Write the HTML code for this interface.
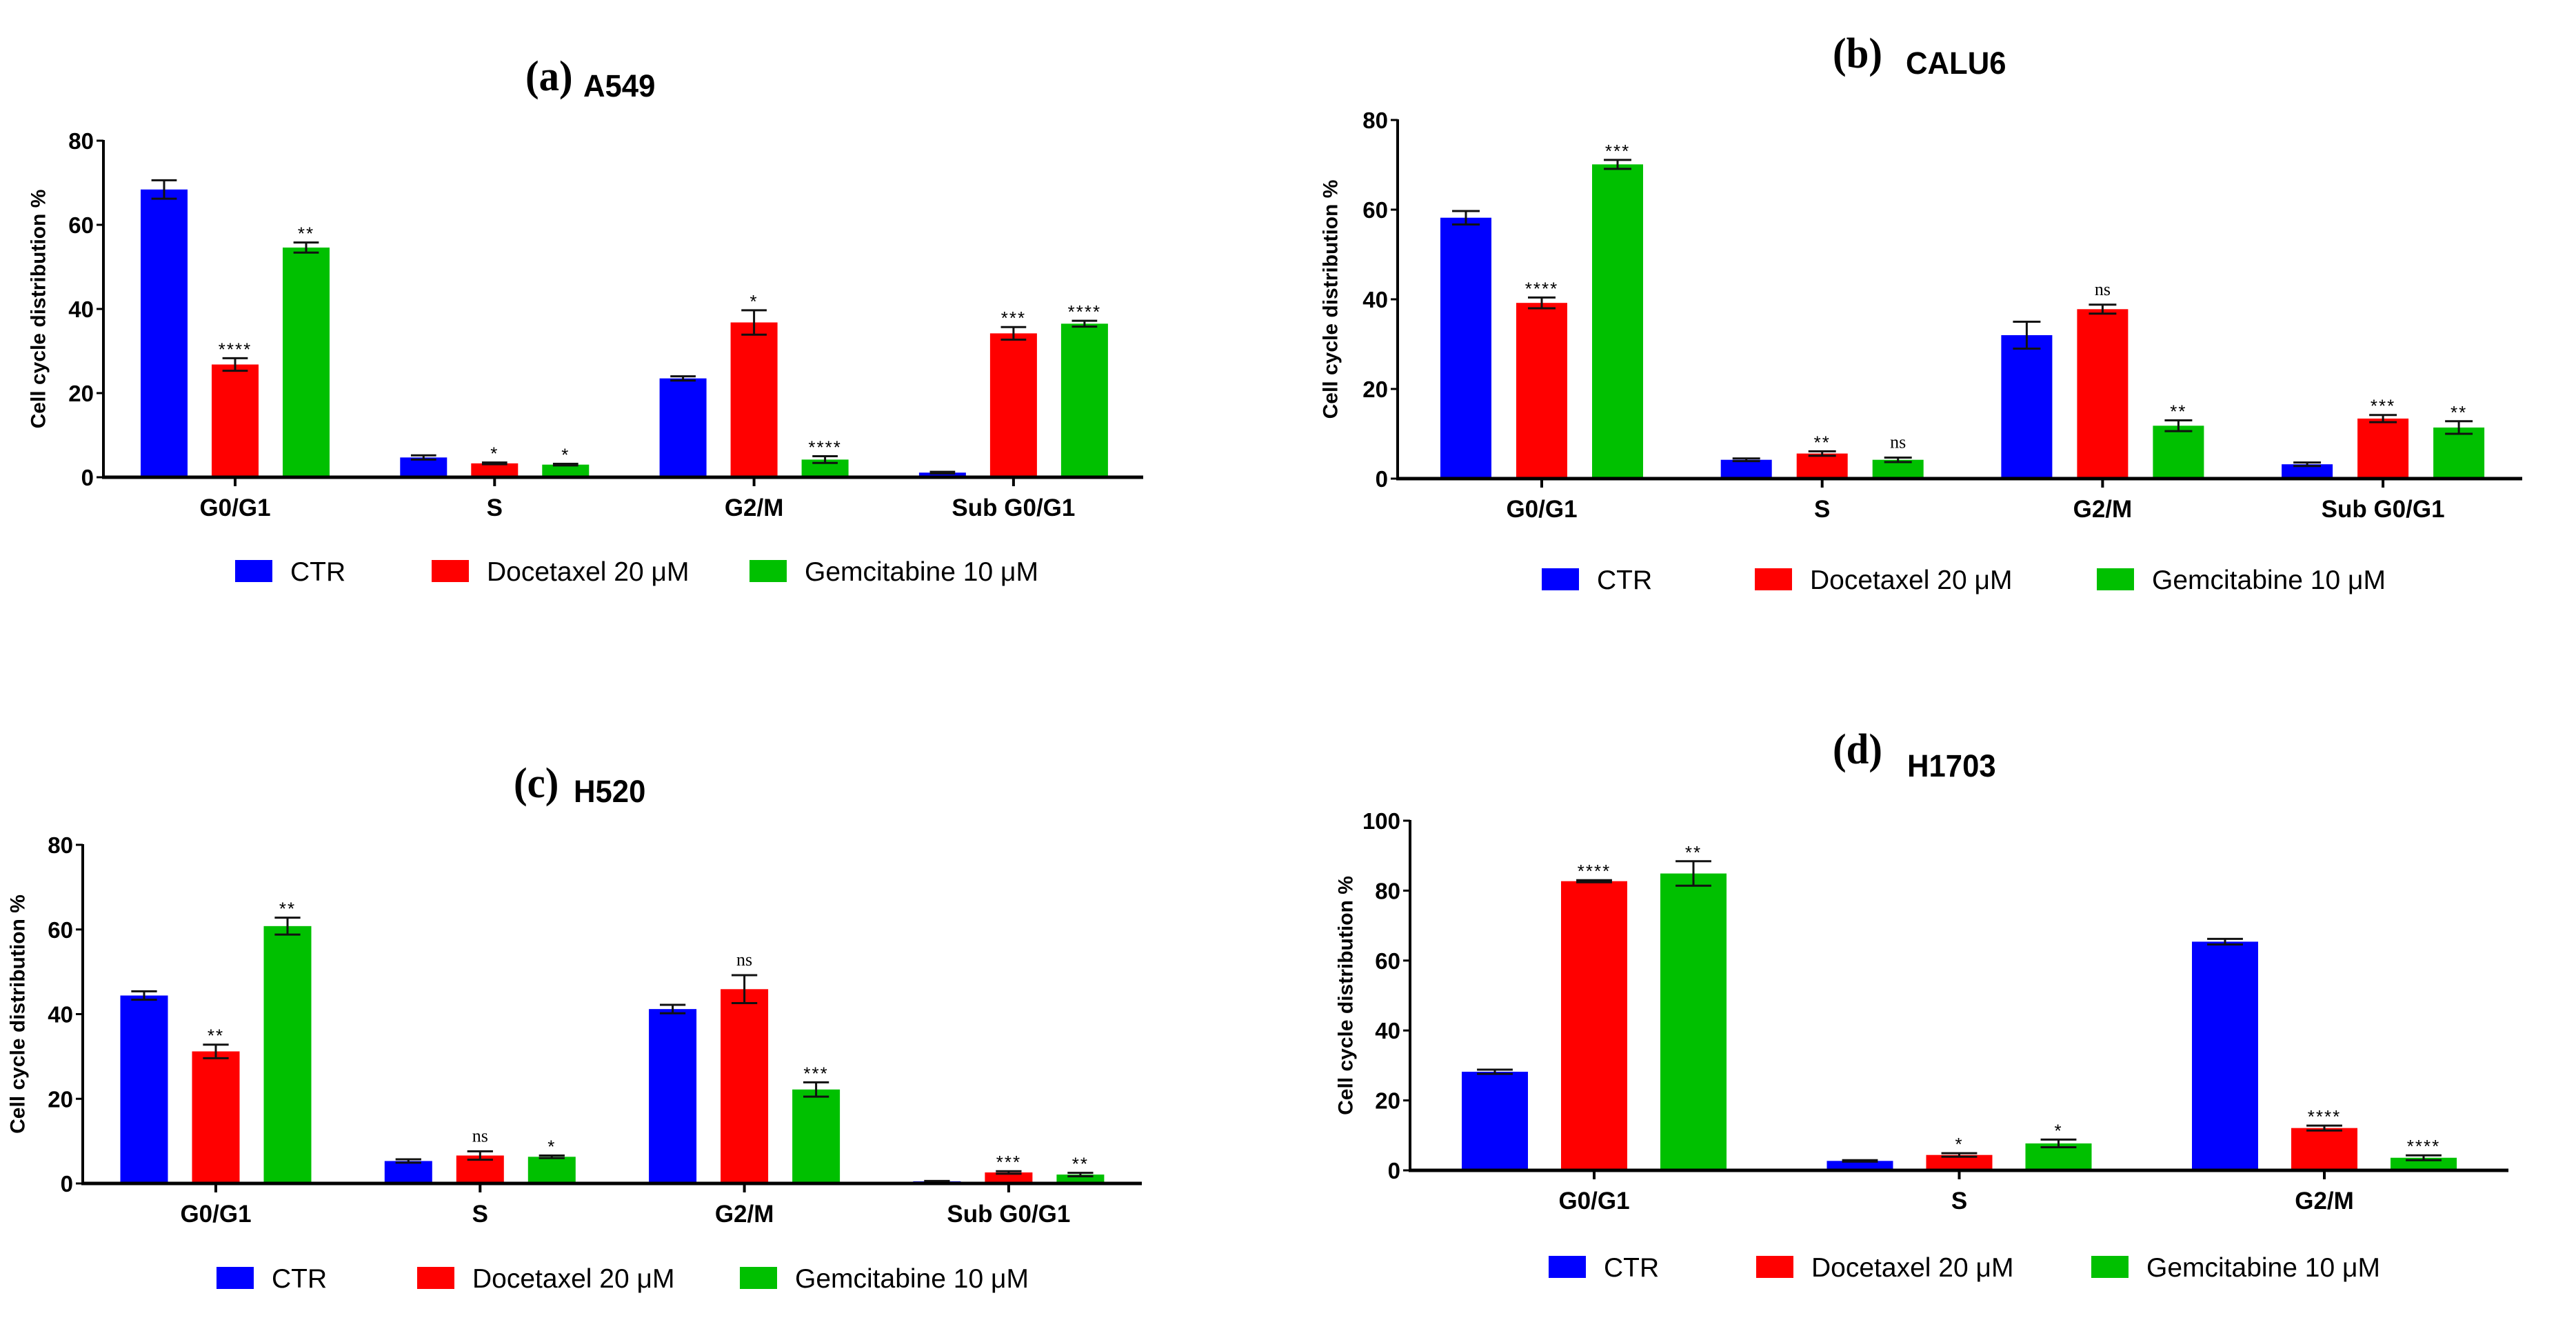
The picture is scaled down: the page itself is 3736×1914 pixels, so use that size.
<!DOCTYPE html>
<html><head><meta charset="utf-8"><style>
html,body{margin:0;padding:0;background:#fff;}
svg{display:block;}
</style></head><body>
<svg id="fig" width="3736" height="1914" viewBox="0 0 3736 1914" xmlns="http://www.w3.org/2000/svg"></svg>
<script>
// ---------- data ----------
const catsA = ["G0/G1","S","G2/M","Sub G0/G1"];
const ctrA = [68.4, 4.7, 23.5, 1.1];
const docA = [26.8, 3.3, 36.8, 34.2];
const gemA = [54.6, 3.0, 4.2, 36.5];
const ctrErrA = [2.2, 0.5, 0.5, 0.2];
const docErrA = [1.5, 0.2, 2.9, 1.5];
const gemErrA = [1.2, 0.2, 0.8, 0.7];
const docSigA = ["****","*","*","***"];
const gemSigA = ["**","*","****","****"];

const catsB = ["G0/G1","S","G2/M","Sub G0/G1"];
const ctrB = [58.2, 4.2, 32.0, 3.2];
const docB = [39.2, 5.6, 37.8, 13.4];
const gemB = [70.1, 4.2, 11.8, 11.4];
const ctrErrB = [1.5, 0.3, 3.0, 0.4];
const docErrB = [1.2, 0.5, 1.0, 0.8];
const gemErrB = [1.0, 0.5, 1.2, 1.4];
const docSigB = ["****","**","ns","***"];
const gemSigB = ["***","ns","**","**"];

const catsC = ["G0/G1","S","G2/M","Sub G0/G1"];
const ctrC = [44.4, 5.3, 41.2, 0.5];
const docC = [31.2, 6.6, 45.9, 2.6];
const gemC = [60.8, 6.3, 22.2, 2.1];
const ctrErrC = [1.0, 0.4, 1.0, 0.1];
const docErrC = [1.6, 1.0, 3.3, 0.3];
const gemErrC = [2.0, 0.3, 1.7, 0.4];
const docSigC = ["**","ns","ns","***"];
const gemSigC = ["**","*","***","**"];

const catsD = ["G0/G1","S","G2/M"];
const ctrD = [28.2, 2.7, 65.4];
const docD = [82.7, 4.4, 12.1];
const gemD = [84.9, 7.7, 3.6];
const ctrErrD = [0.6, 0.2, 0.8];
const docErrD = [0.3, 0.5, 0.7];
const gemErrD = [3.5, 1.1, 0.7];
const docSigD = ["****","*","****"];
const gemSigD = ["**","*","****"];

const ticksABC = [0,20,40,60,80];
const ticksD = [0,20,40,60,80,100];
const legendLabels = ["CTR","Docetaxel 20 \u03bcM","Gemcitabine 10 \u03bcM"];
const colors = ["#0000FF","#FF0000","#00C000"];

// ---------- rendering ----------
const NS = "http://www.w3.org/2000/svg";
const svg = document.getElementById('fig');
function mk(tag, attrs, parent){
  const e = document.createElementNS(NS, tag);
  for (const k in attrs) e.setAttribute(k, attrs[k]);
  (parent||svg).appendChild(e);
  return e;
}
function txt(parent, s, x, y, size, opts){
  opts = opts||{};
  const g = mk('g', {transform:`translate(${x},${y}) scale(${opts.sx||1},1)`}, parent);
  const t = mk('text', {x:0, y:0, 'font-size':size, 'font-family': opts.serif?'"Liberation Serif", serif':'"Liberation Sans", sans-serif', 'font-weight': opts.bold?'bold':'normal', 'text-anchor': opts.anchor||'start', fill:'#000'}, g);
  if (opts.ls) t.setAttribute('letter-spacing', opts.ls);
  t.textContent = s;
  return t;
}

function panel(cfg, cats, series, errs, docSig, gemSig, ticks){
  const g = mk('g', {});
  
  
  const yMax = ticks[ticks.length-1];
  const yS = v => cfg.y0 - (v / yMax) * (cfg.y0 - cfg.yTop);
  const tl = txt(g, '(' + cfg.id + ')', cfg.tx1, cfg.tb1, 62, {serif:true, bold:true, sx:0.95});
  
  
  const tt = txt(g, cfg.name, cfg.tx2, cfg.tb2, 45, {bold:true, sx:0.97});
  
  
  const yt = mk('text', {x:0, y:0, transform:`translate(${cfg.ax - cfg.ytOff},${(cfg.y0+cfg.yTop)/2}) rotate(-90)`, 'font-size':30, 'font-family':'"Liberation Sans", sans-serif', 'font-weight':'bold', 'text-anchor':'middle', 'dominant-baseline':'central'}, g);
  yt.textContent = 'Cell cycle distribution %';
  
  
  ticks.forEach(v => {
    const y = yS(v);
    const tk = mk('line', {x1:cfg.ax-10, x2:cfg.ax, y1:y, y2:y, stroke:'#000', 'stroke-width':3}, g);
    
    
    const lb = txt(g, String(v), cfg.ax-14, y+12, 33, {bold:true, anchor:'end'});
    
    
  });
  cats.forEach((c, i) => {
    const cx = cfg.c0 + i * cfg.step;
    series.forEach((vals, s) => {
      const bx = cx + (s-1) * cfg.off - cfg.bw/2;
      const v = vals[i];
      const bar = mk('rect', {x:bx, y:yS(v), width:cfg.bw, height:cfg.y0 - yS(v), fill:colors[s]}, g);
      
      
      const e = errs[s][i];
      const mx = bx + cfg.bw/2, hw = cfg.bw*0.27;
      const eg = mk('path', {d:`M${mx},${yS(v+e)}V${yS(v-e)}M${mx-hw},${yS(v+e)}H${mx+hw}M${mx-hw},${yS(v-e)}H${mx+hw}`, stroke:'#111', 'stroke-width':3, fill:'none'}, g);
      
      
      const sig = s===1 ? docSig[i] : s===2 ? gemSig[i] : '';
      if (sig) {
        const isNs = sig === 'ns';
        const st = isNs
          ? txt(g, sig, mx, yS(v+e) - 14, 26, {serif:true, anchor:'middle'})
          : txt(g, sig, mx, yS(v+e) - 4, 26, {anchor:'middle', ls:2});
        
        
      }
    });
    const xt = mk('line', {x1:cx, x2:cx, y1:cfg.y0, y2:cfg.y0+13, stroke:'#000', 'stroke-width':4}, g);
    
    
    const xl = txt(g, c, cx, cfg.y0+56, 35, {bold:true, anchor:'middle'});
    
    
  });
  const ya = mk('line', {x1:cfg.ax, x2:cfg.ax, y1:cfg.yTop-1, y2:cfg.y0, stroke:'#000', 'stroke-width':4}, g);
  
  
  const xa = mk('line', {x1:cfg.ax-2, x2:cfg.xEnd, y1:cfg.y0, y2:cfg.y0, stroke:'#000', 'stroke-width':5}, g);
  
  
  legendLabels.forEach((l, s) => {
    const sw = mk('rect', {x:cfg.lx[s], y:cfg.ly-16, width:54, height:32, fill:colors[s]}, g);
    
    
    const lt = txt(g, l, cfg.lx[s]+80, cfg.ly+14, 39);
    
    
  });
}

panel({id:'a', name:'A549', tx1:762, tb1:131, tx2:846, tb2:140, ax:150, ytOff:94, y0:692, yTop:204, xEnd:1658, c0:341, step:376.3, off:103, bw:68, ly:828, lx:[341,626,1087]},
  catsA, [ctrA, docA, gemA], [ctrErrA, docErrA, gemErrA], docSigA, gemSigA, ticksABC);
panel({id:'b', name:'CALU6', tx1:2658, tb1:98, tx2:2764, tb2:107, ax:2027, ytOff:97, y0:694, yTop:174, xEnd:3658, c0:2236, step:406.7, off:110, bw:74, ly:840, lx:[2236,2545,3041]},
  catsB, [ctrB, docB, gemB], [ctrErrB, docErrB, gemErrB], docSigB, gemSigB, ticksABC);
panel({id:'c', name:'H520', tx1:745, tb1:1156, tx2:832, tb2:1163, ax:120, ytOff:94, y0:1716, yTop:1225, xEnd:1656, c0:313, step:383.3, off:104, bw:69, ly:1853, lx:[314,605,1073]},
  catsC, [ctrC, docC, gemC], [ctrErrC, docErrC, gemErrC], docSigC, gemSigC, ticksABC);
panel({id:'d', name:'H1703', tx1:2658, tb1:1107, tx2:2766, tb2:1126, ax:2045, ytOff:93, y0:1697, yTop:1190, xEnd:3638, c0:2312, step:529.5, off:144, bw:96, ly:1837, lx:[2246,2547,3033]},
  catsD, [ctrD, docD, gemD], [ctrErrD, docErrD, gemErrD], docSigD, gemSigD, ticksD);
</script>
</body></html>
